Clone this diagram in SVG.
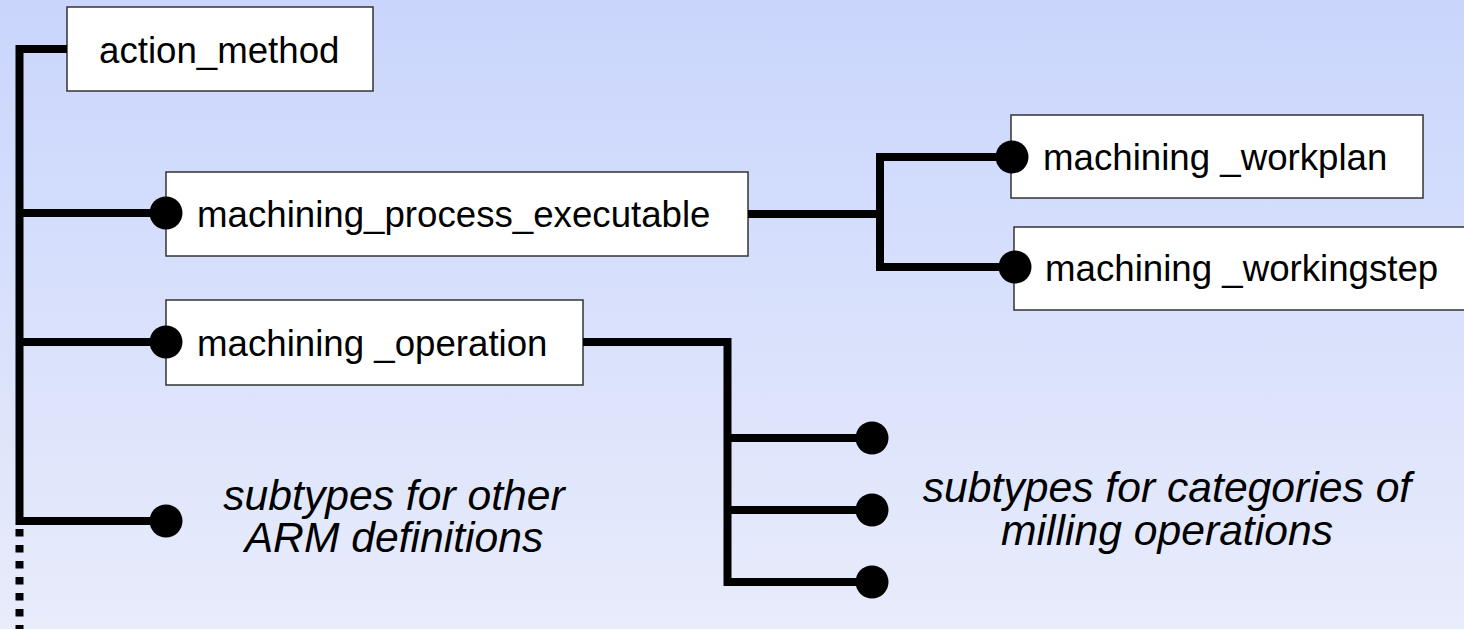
<svg xmlns="http://www.w3.org/2000/svg" width="1464" height="629" viewBox="0 0 1464 629">
<defs>
<linearGradient id="bg" x1="0" y1="0" x2="0" y2="1">
<stop offset="0" stop-color="#c9d5fc"/>
<stop offset="1" stop-color="#e8ecfb"/>
</linearGradient>
<style>
.box{fill:#ffffff;stroke:#333333;stroke-width:1.5}
.lbl{font-family:"Liberation Sans",Arial,sans-serif;font-size:36.67px;fill:#000000}
.note{font-family:"Liberation Sans",Arial,sans-serif;font-size:42.67px;font-style:italic;fill:#000000;text-anchor:middle}
.ln{fill:none;stroke:#000000;stroke-width:8;stroke-linejoin:miter;stroke-linecap:butt}
.dot{fill:#000000}
</style>
</defs>
<rect x="0" y="0" width="1464" height="629" fill="url(#bg)"/>
<g id="action_method">
<rect class="box" x="67" y="7" width="306" height="84"/>
<text class="lbl" x="99" y="63">action_method</text>
</g>
<g id="machining_process_executable">
<rect class="box" x="166" y="172" width="582" height="84"/>
<text class="lbl" x="197" y="227">machining_process_executable</text>
</g>
<g id="machining_operation">
<rect class="box" x="166" y="300" width="417" height="85"/>
<text class="lbl" x="197" y="356">machining _operation</text>
</g>
<g id="machining_workplan">
<rect class="box" x="1011" y="115" width="412" height="83"/>
<text class="lbl" x="1043" y="170">machining _workplan</text>
</g>
<g id="machining_workingstep">
<rect class="box" x="1014" y="227" width="460" height="83"/>
<text class="lbl" x="1045" y="281">machining _workingstep</text>
</g>
<g id="other_arm_subtypes">
<text class="note" x="394" y="510">subtypes for other</text>
<text class="note" x="394" y="552">ARM definitions</text>
</g>
<g id="milling_subtypes">
<text class="note" x="1167" y="502">subtypes for categories of</text>
<text class="note" x="1167" y="545">milling operations</text>
</g>
<g id="connectors">
<path class="ln" d="M67,49 H19.5 V521 H166"/>
<path class="ln" d="M19.5,213 H166"/>
<path class="ln" d="M19.5,342 H166"/>
<path class="ln" d="M19.5,529 V629" stroke-dasharray="7.5 8.5"/>
<path class="ln" d="M748,214 H880"/>
<path class="ln" d="M1012,157 H880 V267 H1015"/>
<path class="ln" d="M583,342 H727.5 V582 H872"/>
<path class="ln" d="M727.5,438 H872"/>
<path class="ln" d="M727.5,510 H872"/>
<circle class="dot" cx="166" cy="213" r="16.5"/>
<circle class="dot" cx="166" cy="342" r="16.5"/>
<circle class="dot" cx="166" cy="521" r="16.5"/>
<circle class="dot" cx="1012" cy="157" r="16.5"/>
<circle class="dot" cx="1015" cy="267" r="16.5"/>
<circle class="dot" cx="872" cy="438" r="16.5"/>
<circle class="dot" cx="872" cy="510" r="16.5"/>
<circle class="dot" cx="872" cy="582" r="16.5"/>
</g>
</svg>
